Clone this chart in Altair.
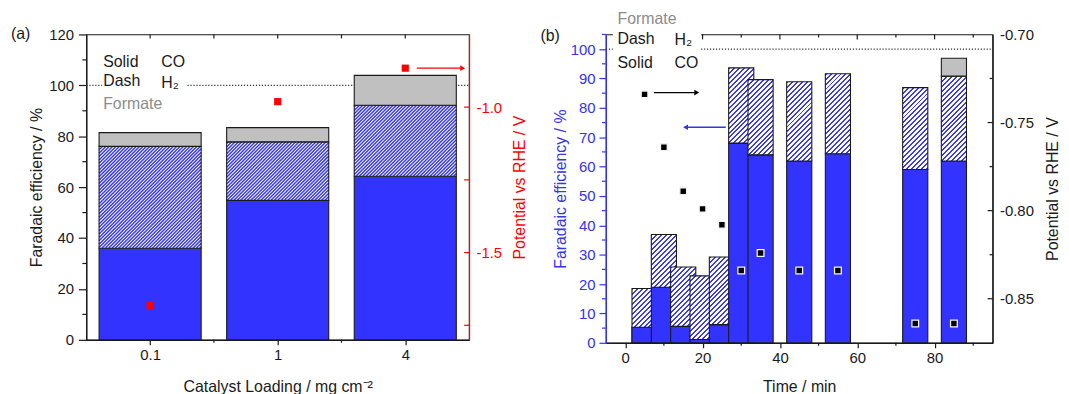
import math
import altair as alt
import pandas as pd

FONT = "Liberation Sans, Arial, Helvetica, sans-serif"
INK = "#1a1a1a"
CO_BLUE = "#3333FF"
HATCH_BLUE = "#3c3ce6"
HATCH_BLUE_A = "#3838ec"
GREY = "#C0C0C0"
RED = "#FF0000"
AXIS_BLUE = "#3434EE"
FORMATE_TXT = "#8c8c8c"

# ---------------- data: panel (a)  (Faradaic efficiency per product, %)
loading_labels = ["0.1", "1", "4"]
a_co = [36.0, 54.8, 64.3]
a_h2 = [40.0, 23.0, 27.9]
a_formate = [5.4, 5.6, 11.7]
a_potential = [-1.682, -0.981, -0.866]

# ---------------- data: panel (b)
b_time = [5, 10, 15, 20, 25, 30, 35, 45, 55, 75, 85]
b_co = [5.3, 18.9, 5.6, 1.1, 6.2, 68.0, 64.0, 61.9, 64.4, 59.0, 61.9]
b_h2 = [13.2, 18.0, 20.2, 21.7, 23.0, 25.6, 25.6, 27.0, 27.2, 27.9, 28.9]
b_formate = [0, 0, 0, 0, 0, 0, 0, 0, 0, 0, 6.1]
b_potential = [-0.734, -0.764, -0.789, -0.799, -0.808, -0.834, -0.824,
               -0.834, -0.834, -0.864, -0.864]

# annotation arrows (data units)
a_arrow = {"x0": [2.09], "x1": [2.45], "y": [-0.866]}
b_arrow_right = {"x0": [7.4], "x1": [18.5], "y": [-0.733]}
b_arrow_left = {"x0": [26.0], "x1": [15.6], "y": [73.4]}

# ticks
a_x_major = [0, 1, 2]
a_x_minor = [0.5, 1.5]
a_y_major = list(range(0, 121, 20))
a_y_minor = list(range(10, 120, 20))
a_r_ticks = [-1.75, -1.5, -1.25, -1.0]
a_r_labels = [-1.5, -1.0]
b_x_major = list(range(0, 81, 20))
b_x_minor = list(range(10, 91, 20))
b_y_major = list(range(0, 101, 10))
b_y_minor = list(range(5, 106, 10))
b_r_major = [-0.85, -0.80, -0.75]
b_r_minor = [-0.825, -0.775, -0.725]
b_r_labels = [-0.85, -0.80, -0.75, -0.70]

# ---------------- layout
WA, HA = 386, 308
WB, HB = 390, 311
HALF_A = 0.4
HALF_B = 3.25
XA_DOM, YA_DOM = [-0.5, 2.5], [0, 120]

XA = alt.Scale(domain=XA_DOM, nice=False, zero=False)
YA = alt.Scale(domain=YA_DOM, nice=False, zero=False)
YA_R = alt.Scale(domain=[-1.8, -0.75], nice=False, zero=False)
XB = alt.Scale(domain=[-5, 95], nice=False, zero=False)
YB = alt.Scale(domain=[0, 105], nice=False, zero=False)
YB_R = alt.Scale(domain=[-0.875, -0.70], nice=False, zero=False)

ONE = pd.DataFrame({"d": [0]})


def hatch_fill(w, h, period, frac, line_color, bg="#ffffff"):
    """Diagonal '/' stripes emulated with a hard-stop linear gradient."""
    L = w + h
    den = w * w + h * h
    n = int(math.ceil(L / period))
    stops = []
    for i in range(n):
        a = min(1.0, i * period / L)
        b = min(1.0, (i + frac) * period / L)
        c = min(1.0, (i + 1) * period / L)
        stops += [
            {"offset": round(a, 5), "color": line_color},
            {"offset": round(b, 5), "color": line_color},
            {"offset": round(b, 5), "color": bg},
            {"offset": round(c, 5), "color": bg},
        ]
    return {"gradient": "linear", "x1": 0, "y1": 0,
            "x2": w * L / den, "y2": h * L / den, "stops": stops}


def hatch_segments(x0s, x1s, y0s, y1s, period, W, H, xdom, ydom):
    """'/' hatch line segments clipped to rectangles, in data units."""
    sx = W / (xdom[1] - xdom[0])
    sy = H / (ydom[1] - ydom[0])
    rows = []
    for x0, x1, y0, y1 in zip(x0s, x1s, y0s, y1s):
        X0, X1 = (x0 - xdom[0]) * sx, (x1 - xdom[0]) * sx
        Yt, Yb = H - (y1 - ydom[0]) * sy, H - (y0 - ydom[0]) * sy
        for k in range(int(math.ceil((X0 + Yt) / period)), int(math.floor((X1 + Yb) / period)) + 1):
            c = k * period
            xa, xb = max(X0, c - Yb), min(X1, c - Yt)
            if xb - xa < 0.4:
                continue
            rows.append({"xa": xa / sx + xdom[0], "ya": (H - (c - xa)) / sy + ydom[0],
                         "xb": xb / sx + xdom[0], "yb": (H - (c - xb)) / sy + ydom[0]})
    return pd.DataFrame(rows)


def rect(df, fill, xs, xax, ys, x0, x1, y0, y1, yaxis=None, stroke=INK):
    kw = dict(fill=fill, strokeWidth=1.1)
    if stroke:
        kw["stroke"] = stroke
    else:
        kw["strokeOpacity"] = 0
    return alt.Chart(df).mark_rect(**kw).encode(
        x=alt.X(f"{x0}:Q", scale=xs, axis=xax),
        x2=alt.X2(f"{x1}:Q"),
        y=alt.Y(f"{y1}:Q", scale=ys, axis=yaxis),
        y2=alt.Y2(f"{y0}:Q"),
    )


def text(t, x, y, color=INK, size=16):
    return alt.Chart(pd.DataFrame({"t": [t]})).mark_text(
        align="left", baseline="middle", font=FONT, fontSize=size, color=color
    ).encode(text="t:N", x=alt.value(x), y=alt.value(y))


def hrule_at(v, ys, width, color, dash):
    return alt.Chart(pd.DataFrame({"v": [v]})).mark_rule(
        color=color, strokeDash=dash, strokeWidth=1.2
    ).encode(y=alt.Y("v:Q", scale=ys, axis=None), x=alt.value(0), x2=alt.value(width))


def xticks(vals, xs, xax, y0, y1, color=INK):
    return alt.Chart(pd.DataFrame({"v": vals})).mark_rule(color=color, strokeWidth=1.2).encode(
        x=alt.X("v:Q", scale=xs, axis=xax), y=alt.value(y0), y2=alt.value(y1))


def yticks(vals, ys, x0, x1, color=INK):
    return alt.Chart(pd.DataFrame({"v": vals})).mark_rule(color=color, strokeWidth=1.2).encode(
        y=alt.Y("v:Q", scale=ys, axis=None), x=alt.value(x0), x2=alt.value(x1))


def arrow(d, xs, xax, ys, color, shape):
    df = pd.DataFrame(d)
    shaft = alt.Chart(df).mark_rule(color=color, strokeWidth=1.4).encode(
        x=alt.X("x0:Q", scale=xs, axis=xax), x2="x1:Q",
        y=alt.Y("y:Q", scale=ys, axis=None))
    head = alt.Chart(df).mark_point(shape=shape, filled=True, size=32, color=color, opacity=1).encode(
        x=alt.X("x1:Q", scale=xs, axis=xax), y=alt.Y("y:Q", scale=ys, axis=None))
    return [shaft, head]


def box(x0, x1, y0, y1):
    return alt.Chart(ONE).mark_rect(fill="white", strokeOpacity=0).encode(
        x=alt.value(x0), x2=alt.value(x1), y=alt.value(y0), y2=alt.value(y1))


# ====================== panel (a)
dfa = pd.DataFrame({"pos": list(range(len(loading_labels))), "co": a_co,
                    "h2": a_h2, "formate": a_formate, "pot": a_potential})
dfa["x0"] = dfa["pos"] - HALF_A
dfa["x1"] = dfa["pos"] + HALF_A
dfa["base"] = 0.0
dfa["h2_top"] = dfa["co"] + dfa["h2"]
dfa["f_top"] = dfa["h2_top"] + dfa["formate"]

lab_expr = "''"
for i in reversed(range(len(loading_labels))):
    lab_expr = f"datum.value == {i} ? '{loading_labels[i]}' : " + lab_expr

xaxis_a = alt.Axis(values=a_x_major, labelExpr=lab_expr, tickSize=5,
                   labelPadding=3, title="Catalyst Loading / mg cm⁻²",
                   titleX=WA / 2, titleY=47, titleAlign="center", titleBaseline="middle")
yaxis_a = alt.Axis(values=a_y_major, tickSize=8,
                   labelPadding=5, title="Faradaic efficiency / %",
                   titleX=-50, titleY=HA / 2, titleAngle=270, titleAlign="center",
                   titleBaseline="middle")
raxis_a = alt.Axis(orient="right", values=a_r_labels,
                   labelExpr="'-' + format(-datum.value, '.1f')", ticks=False, labelPadding=7,
                   domainColor=RED, labelColor=RED, titleColor=RED,
                   title="Potential vs RHE / V", titleX=51, titleY=HA / 2, titleAngle=270,
                   titleAlign="center", titleBaseline="middle")

hatch_a = hatch_segments(dfa["x0"], dfa["x1"], dfa["co"], dfa["h2_top"], 3.4, WA, HA,
                         XA_DOM, YA_DOM)

layers_a = [
    rect(dfa, CO_BLUE, XA, xaxis_a, YA, "x0", "x1", "base", "co", yaxis=yaxis_a),
    hrule_at(100, YA, WA, "#333333", [1.2, 1.8]),
    box(16, 101, 16, 80),
    rect(dfa, "#ffffff", XA, xaxis_a, YA, "x0", "x1", "co", "h2_top", stroke=None),
    alt.Chart(hatch_a).mark_rule(color=HATCH_BLUE_A, strokeWidth=1.45).encode(
        x=alt.X("xa:Q", scale=XA, axis=xaxis_a), x2="xb:Q",
        y=alt.Y("ya:Q", scale=YA, axis=None), y2="yb:Q"),
    rect(dfa, "transparent", XA, xaxis_a, YA, "x0", "x1", "co", "h2_top"),
    rect(dfa, GREY, XA, xaxis_a, YA, "x0", "x1", "h2_top", "f_top"),
    xticks(a_x_major + a_x_minor, XA, xaxis_a, 0, 4),
    xticks(a_x_minor, XA, xaxis_a, HA, HA + 3),
    yticks(a_y_minor, YA, -4, 0),
    text("Solid", 17, 27.6), text("CO", 75.5, 27.6),
    text("Dash", 17, 47.5), text("H₂", 75.5, 49),
    text("Formate", 17, 70, FORMATE_TXT), text("(a)", -76, -0.5),
    alt.Chart(dfa).mark_square(size=52, color=RED, opacity=1).encode(
        x=alt.X("pos:Q", scale=XA, axis=xaxis_a),
        y=alt.Y("pot:Q", scale=YA_R, axis=raxis_a)),
    yticks(a_r_ticks, YA_R, WA - 5, WA, RED),
] + arrow(a_arrow, XA, xaxis_a, YA_R, RED, "triangle-right")

panel_a = alt.layer(*layers_a).resolve_scale(y="independent").properties(width=WA, height=HA)

# ====================== panel (b)
dfb = pd.DataFrame({"t": b_time, "co": b_co, "h2": b_h2, "formate": b_formate,
                    "pot": b_potential})
dfb["x0"] = dfb["t"] - HALF_B
dfb["x1"] = dfb["t"] + HALF_B
dfb["base"] = 0.0
dfb["h2_top"] = dfb["co"] + dfb["h2"]
dfb["f_top"] = dfb["h2_top"] + dfb["formate"]

xaxis_b = alt.Axis(values=b_x_major, tickSize=5,
                   labelPadding=3, title="Time / min", titleX=WB / 2, titleY=44,
                   titleAlign="center", titleBaseline="middle")
yaxis_b = alt.Axis(values=b_y_major, tickSize=7,
                   labelPadding=4, domainColor=AXIS_BLUE, tickColor=AXIS_BLUE,
                   labelColor=AXIS_BLUE, titleColor=AXIS_BLUE,
                   title="Faradaic efficiency / %", titleX=-46, titleY=HB / 2, titleAngle=270,
                   titleAlign="center", titleBaseline="middle")
raxis_b = alt.Axis(orient="right", values=b_r_labels,
                   labelExpr="'-' + format(-datum.value, '.2f')", ticks=False, labelPadding=7,
                   title="Potential vs RHE / V", titleX=60, titleY=HB / 2, titleAngle=270,
                   titleAlign="center", titleBaseline="middle")

layers_b = [rect(dfb.iloc[[0]], CO_BLUE, XB, xaxis_b, YB, "x0", "x1", "base", "co",
                 yaxis=yaxis_b),
            hrule_at(100, YB, WB, "#333333", [1.2, 1.8]),
            xticks(b_x_major, XB, xaxis_b, 0, 5),
            xticks(b_x_minor, XB, xaxis_b, 0, 3),
            box(7, 96, -4, 38)]
wpx_b = 2 * HALF_B * WB / 100
for i in range(len(dfb)):
    row = dfb.iloc[[i]]
    layers_b.append(rect(row, CO_BLUE, XB, xaxis_b, YB, "x0", "x1", "base", "co"))
    hpx = b_h2[i] * HB / 105
    layers_b.append(rect(row, hatch_fill(wpx_b, hpx, 5.0, 0.4, HATCH_BLUE), XB, xaxis_b, YB,
                         "x0", "x1", "co", "h2_top"))
    if b_formate[i] > 0:
        layers_b.append(rect(row, GREY, XB, xaxis_b, YB, "x0", "x1", "h2_top", "f_top"))
layers_b += [xticks(b_x_minor, XB, xaxis_b, HB, HB + 3),
             yticks(b_y_minor, YB, -4, 0, AXIS_BLUE)]
layers_b += arrow(b_arrow_left, XB, xaxis_b, YB, AXIS_BLUE, "triangle-left")
layers_b += [text("Formate", 11.7, -15.5, FORMATE_TXT),
             text("Dash", 11.7, 4.5), text("H₂", 69.3, 6),
             text("Solid", 11.7, 29.2), text("CO", 69.3, 29.2),
             text("(b)", -66, 1.5)]
layers_b += [
    alt.Chart(dfb).mark_square(size=46, color="black", opacity=1, stroke="#f4f4f4",
                               strokeWidth=1.3).encode(
        x=alt.X("t:Q", scale=XB, axis=xaxis_b),
        y=alt.Y("pot:Q", scale=YB_R, axis=raxis_b)),
    yticks(b_r_major, YB_R, WB - 5, WB),
    yticks(b_r_minor, YB_R, WB - 3, WB),
] + arrow(b_arrow_right, XB, xaxis_b, YB_R, "black", "triangle-right")

panel_b = alt.layer(*layers_b).resolve_scale(y="independent").properties(width=WB, height=HB)

chart = alt.hconcat(panel_a, panel_b, spacing=138, bounds="flush").properties(
    padding={"left": 2, "top": 0, "right": 0, "bottom": 0}
).configure_axis(
    labelFont=FONT, titleFont=FONT, labelFontSize=15, titleFontSize=16,
    titleFontWeight="normal", grid=False, domainWidth=1.2, tickWidth=1.2,
    labelColor=INK, titleColor=INK, domainColor=INK, tickColor=INK,
).configure_view(stroke=INK, strokeWidth=1.2)

chart.save("out.html", embed_options={"renderer": "svg", "actions": False})
